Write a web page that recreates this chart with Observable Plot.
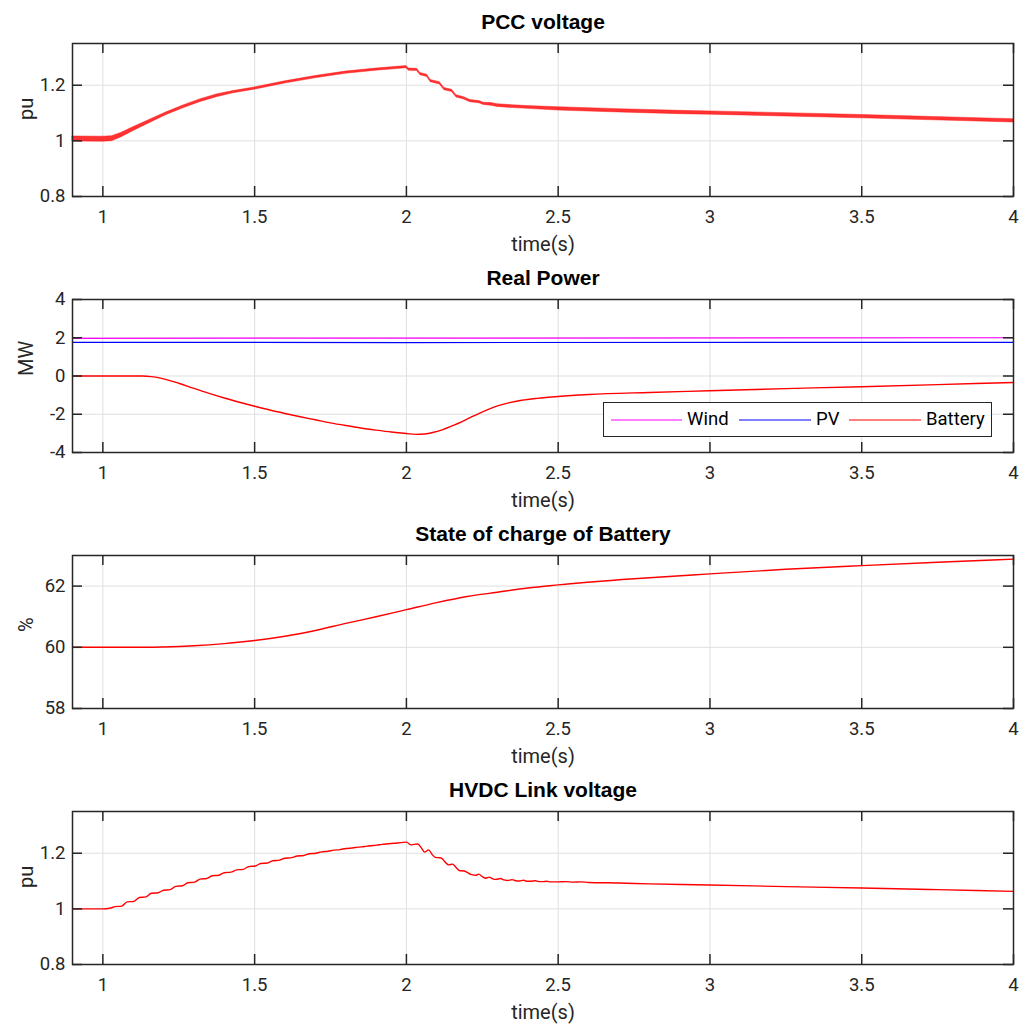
<!DOCTYPE html>
<html>
<head>
<meta charset="utf-8">
<script src="https://cdn.jsdelivr.net/npm/d3@7"></script>
<script src="https://cdn.jsdelivr.net/npm/@observablehq/plot@0.6"></script>
<style>
  html, body { margin: 0; padding: 0; background: #fff; }
  #wrap { position: relative; width: 1032px; height: 1030px; }
  #wrap svg { display: block; }
  .legend { position: absolute; left: 603px; top: 402px; width: 387px; height: 33px;
    border: 1.3px solid #262626; background: #fff; font-family: Roboto, "Liberation Sans", sans-serif;
    font-size: 18.5px; color: #000; }
  .legend svg { position: absolute; left: 0; top: 0; }
  .legend span { position: absolute; top: 5px; }
</style>
</head>
<body>
<div id="wrap"></div>
<script>
// ---------- data ----------
const xTicks = [1, 1.5, 2, 2.5, 3, 3.5, 4];
const xDomain = [0.9, 4];

// Panel 1: PCC voltage (centre of oscillating band, band half-width)
const pccT = [0.9, 1.0, 1.03, 1.06, 1.1, 1.155, 1.21, 1.265, 1.32, 1.375, 1.43, 1.5, 1.6, 1.7, 1.8, 1.9, 2.0,
  2.008, 2.035, 2.046, 2.068, 2.08, 2.11, 2.125, 2.15, 2.165, 2.19, 2.21, 2.24, 2.255, 2.28, 2.3, 2.35, 2.4, 2.5, 2.7, 2.9, 3.0, 3.5, 4.0];
const pccV = [1.007, 1.006, 1.008, 1.02, 1.042, 1.07, 1.098, 1.122, 1.144, 1.162, 1.175, 1.188, 1.21, 1.229, 1.245, 1.256, 1.265,
  1.256, 1.255, 1.24, 1.234, 1.215, 1.207, 1.186, 1.18, 1.16, 1.153, 1.143, 1.139, 1.133, 1.131, 1.127, 1.123, 1.12, 1.115, 1.108, 1.102, 1.1, 1.087, 1.072];
const pccBand = [0.009, 0.009, 0.009, 0.008, 0.007, 0.006, 0.005, 0.005, 0.005, 0.005, 0.004, 0.004, 0.004, 0.004, 0.004, 0.004, 0.004,
  0.004, 0.004, 0.004, 0.004, 0.004, 0.004, 0.004, 0.004, 0.004, 0.004, 0.004, 0.004, 0.004, 0.005, 0.005, 0.005, 0.005, 0.006, 0.006, 0.006, 0.006, 0.006, 0.006];

// Panel 2: Real power (MW)
const windT = [0.9, 2.0, 4.0];
const windP = [1.97, 1.98, 2.0];
const pvT = [0.9, 2.0, 4.0];
const pvP = [1.76, 1.75, 1.76];
const batT = [0.9, 1.0, 1.1, 1.13, 1.16, 1.19, 1.25, 1.3, 1.35, 1.4, 1.45, 1.5, 1.55, 1.6, 1.65, 1.7, 1.75, 1.8, 1.85, 1.9, 1.95, 2.0, 2.03, 2.06, 2.09, 2.12, 2.15, 2.18, 2.21, 2.24, 2.27, 2.3, 2.34, 2.38, 2.43, 2.5, 2.6, 2.8, 3.0, 3.25, 3.5, 3.75, 4.0];
const batP = [0, 0, 0, 0, -0.03, -0.11, -0.38, -0.65, -0.91, -1.15, -1.37, -1.58, -1.78, -1.96, -2.13, -2.29, -2.45, -2.59, -2.72, -2.83, -2.93, -3.01, -3.05, -3.03, -2.94, -2.8, -2.61, -2.41, -2.18, -1.95, -1.74, -1.56, -1.39, -1.27, -1.17, -1.07, -0.97, -0.86, -0.77, -0.66, -0.56, -0.45, -0.34];

// Panel 3: State of charge (%)
const socT = [0.9, 1.15, 1.2, 1.3, 1.4, 1.5, 1.6, 1.7, 1.8, 1.9, 2.0, 2.1, 2.2, 2.3, 2.4, 2.5, 2.75, 3.0, 3.25, 3.5, 3.75, 4.0];
const socV = [60, 60, 60.01, 60.05, 60.12, 60.22, 60.36, 60.55, 60.78, 61.0, 61.23, 61.46, 61.66, 61.8, 61.94, 62.04, 62.24, 62.4, 62.55, 62.67, 62.78, 62.88];

// Panel 4: HVDC link voltage (pu)
const hvT = [0.9, 1.0, 1.022, 1.04, 1.062, 1.08, 1.102, 1.12, 1.142, 1.16, 1.182, 1.2, 1.222, 1.24, 1.262, 1.28, 1.302, 1.32, 1.342, 1.36, 1.382, 1.4, 1.422, 1.44, 1.462, 1.48, 1.502, 1.52, 1.542, 1.56, 1.582, 1.6, 1.622, 1.64, 1.662, 1.68, 1.702, 1.72, 1.742, 1.76, 1.782, 1.8, 1.822, 1.84, 1.862, 1.88, 1.902, 1.92, 1.942, 1.96, 1.982, 2.0,
  2.015, 2.025, 2.037, 2.05, 2.06, 2.073, 2.085, 2.095, 2.105, 2.114, 2.128, 2.139, 2.152, 2.163, 2.174, 2.19, 2.2, 2.215, 2.23, 2.238, 2.25, 2.262, 2.273, 2.285, 2.295, 2.31, 2.322, 2.333, 2.348, 2.36, 2.372, 2.386, 2.398, 2.41, 2.424, 2.436, 2.45, 2.462, 2.475, 2.5,
  2.525, 2.55, 2.575, 2.6, 2.7, 2.8, 3.0, 3.25, 3.5, 3.75, 4.0];
const hvV = [1.0, 1.0, 1.002, 1.008, 1.01, 1.025, 1.027, 1.041, 1.043, 1.056, 1.058, 1.067, 1.069, 1.081, 1.083, 1.094, 1.096, 1.107, 1.109, 1.119, 1.121, 1.13, 1.132, 1.14, 1.142, 1.152, 1.154, 1.163, 1.165, 1.173, 1.175, 1.182, 1.184, 1.19, 1.192, 1.198, 1.2, 1.205, 1.207, 1.211, 1.213, 1.217, 1.219, 1.222, 1.224, 1.227, 1.229, 1.232, 1.234, 1.236, 1.238, 1.24,
  1.23, 1.232, 1.233, 1.218, 1.204, 1.212, 1.195, 1.185, 1.184, 1.183, 1.168, 1.158, 1.161, 1.15, 1.138, 1.136, 1.131, 1.123, 1.121, 1.125, 1.116, 1.11, 1.114, 1.108, 1.106, 1.109, 1.104, 1.102, 1.105, 1.101, 1.1, 1.103, 1.099, 1.099, 1.101, 1.098, 1.098, 1.099, 1.097, 1.097,
  1.098, 1.096, 1.097, 1.095, 1.093, 1.09, 1.086, 1.08, 1.075, 1.069, 1.063];

const panels = [
  { title: "PCC voltage", ylabel: "pu", yDomain: [0.8, 1.35], yTicks: [0.8, 1, 1.2] },
  { title: "Real Power", ylabel: "MW", yDomain: [-4, 4], yTicks: [-4, -2, 0, 2, 4] },
  { title: "State of charge of Battery", ylabel: "%", yDomain: [58, 63], yTicks: [58, 60, 62] },
  { title: "HVDC Link voltage", ylabel: "pu", yDomain: [0.8, 1.35], yTicks: [0.8, 1, 1.2] }
];

// ---------- tables ----------
const zip = (t, v) => t.map((x, i) => ({ t: x, v: v[i] }));
const pcc = pccT.map((x, i) => ({ t: x, lo: pccV[i] - pccBand[i], hi: pccV[i] + pccBand[i], v: pccV[i] }));
const wind = zip(windT, windP), pv = zip(pvT, pvP), bat = zip(batT, batP);
const soc = zip(socT, socV), hv = zip(hvT, hvV);

const dataMarks = [
  [Plot.areaY(pcc, { x: "t", y1: "lo", y2: "hi", fill: "#ff0000", fillOpacity: 0.8, stroke: "#ff0000", strokeOpacity: 0.5, strokeWidth: 0.8 })],
  [Plot.line(wind, { x: "t", y: "v", stroke: "#ff00ff", strokeWidth: 1.2 }),
   Plot.line(pv, { x: "t", y: "v", stroke: "#0000ff", strokeWidth: 1.2 }),
   Plot.line(bat, { x: "t", y: "v", stroke: "#ff0000", strokeWidth: 1.4, curve: "monotone-x" })],
  [Plot.line(soc, { x: "t", y: "v", stroke: "#ff0000", strokeWidth: 1.4, curve: "monotone-x" })],
  [Plot.line(hv, { x: "t", y: "v", stroke: "#ff0000", strokeWidth: 1.4, curve: "monotone-x" })]
];

// ---------- layout ----------
const W = 1032, H = 256, ML = 72, MR = 19, MT = 43, MB = 60;
const IW = W - ML - MR, IH = H - MT - MB, TL = 10;
const ink = "#262626", grid = "#dfdfdf";
const wrap = document.getElementById("wrap");

panels.forEach((p, k) => {
  const chart = Plot.plot({
    width: W, height: H,
    marginLeft: ML, marginRight: MR, marginTop: MT, marginBottom: MB,
    x: { domain: xDomain, axis: null },
    y: { domain: p.yDomain, axis: null },
    style: { fontFamily: "Roboto, 'Liberation Sans', sans-serif", fontSize: "18.5px", color: ink, background: "#fff", overflow: "visible" },
    marks: [
      Plot.ruleX(xTicks, { x: d => d, stroke: grid, strokeWidth: 1 }),
      Plot.ruleY(p.yTicks, { y: d => d, stroke: grid, strokeWidth: 1 }),
      ...dataMarks[k],
      // inward ticks on all four sides
      Plot.ruleX(xTicks, { x: d => d, insetTop: IH - TL, stroke: ink, strokeWidth: 1.5 }),
      Plot.ruleX(xTicks, { x: d => d, insetBottom: IH - TL, stroke: ink, strokeWidth: 1.5 }),
      Plot.ruleY(p.yTicks, { y: d => d, insetRight: IW - TL, stroke: ink, strokeWidth: 1.5 }),
      Plot.ruleY(p.yTicks, { y: d => d, insetLeft: IW - TL, stroke: ink, strokeWidth: 1.5 }),
      Plot.frame({ stroke: ink, strokeWidth: 1.5 }),
      // tick labels
      Plot.text(xTicks, { x: d => d, text: d => String(d), frameAnchor: "bottom", dy: 21, lineAnchor: "middle", fill: ink }),
      Plot.text(p.yTicks, { y: d => d, text: d => String(d), frameAnchor: "left", dx: -7, textAnchor: "end", lineAnchor: "middle", fill: ink }),
      // axis labels and title
      Plot.text(["time(s)"], { frameAnchor: "bottom", dy: 48, lineAnchor: "middle", fontSize: 20, fill: ink }),
      Plot.text([p.ylabel], { frameAnchor: "left", dx: -46, rotate: -90, lineAnchor: "middle", fontSize: 20, fill: ink }),
      Plot.text([p.title], { frameAnchor: "top", dy: -21, lineAnchor: "middle", fontSize: 21, fontWeight: "bold", fill: "#000", fontFamily: "'Liberation Sans', Arial, sans-serif" })
    ]
  });
  wrap.appendChild(chart);
});

// legend for the Real Power panel
const legendItems = [
  { name: "Wind", color: "#ff00ff", x1: 7, x2: 78, tx: 83 },
  { name: "PV", color: "#0000ff", x1: 135, x2: 207, tx: 212 },
  { name: "Battery", color: "#ff0000", x1: 245, x2: 317, tx: 322 }
];
const lg = document.createElement("div");
lg.className = "legend";
const ns = "http://www.w3.org/2000/svg";
const lsvg = document.createElementNS(ns, "svg");
lsvg.setAttribute("width", 387); lsvg.setAttribute("height", 33);
legendItems.forEach(it => {
  const l = document.createElementNS(ns, "line");
  l.setAttribute("x1", it.x1); l.setAttribute("x2", it.x2);
  l.setAttribute("y1", 17); l.setAttribute("y2", 17);
  l.setAttribute("stroke", it.color); l.setAttribute("stroke-width", 1.2);
  lsvg.appendChild(l);
  const s = document.createElement("span");
  s.textContent = it.name; s.style.left = it.tx + "px";
  lg.appendChild(s);
});
lg.appendChild(lsvg);
wrap.appendChild(lg);
</script>
</body>
</html>
